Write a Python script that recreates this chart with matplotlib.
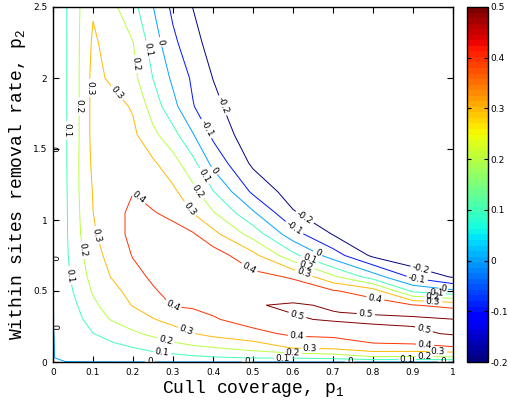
import numpy as np
import matplotlib
matplotlib.use('Agg')
import matplotlib.pyplot as plt
from matplotlib import colors, cm

plt.rcParams['mathtext.fontset'] = 'custom'
plt.rcParams['mathtext.rm'] = 'Liberation Mono'

# grid of the surface (cull coverage p1, within sites removal rate p2)
p1 = [0, 0.03, 0.06, 0.1, 0.15, 0.2, 0.25, 0.3, 0.35, 0.4, 0.5, 0.6, 0.7, 0.8, 0.9, 1.0]
p2 = [0, 0.03, 0.1, 0.2, 0.3, 0.35, 0.4, 0.5, 0.6, 0.75, 0.9, 1.05, 1.2, 1.4, 1.6, 1.8, 2.0, 2.25, 2.5]

# values, one row per p2
z_rows = [
    [-0.002] * 16,
    [-0.002, 0.015, 0.025, 0.035, 0.04, 0.045, 0.05, 0.06, 0.08, 0.09, 0.105, 0.11, 0.13, 0.18, 0.175, 0.18],
    [-0.002, 0.015, 0.03, 0.05, 0.075, 0.098, 0.13, 0.16, 0.18, 0.195, 0.24, 0.305, 0.32, 0.37, 0.37, 0.39],
    [-0.002, 0.022, 0.045, 0.098, 0.14, 0.185, 0.22, 0.26, 0.298, 0.33, 0.37, 0.42, 0.43, 0.46, 0.48, 0.51],
    [-0.002, 0.035, 0.07, 0.15, 0.21, 0.25, 0.295, 0.33, 0.37, 0.39, 0.445, 0.49, 0.51, 0.52, 0.52, 0.502],
    [-0.002, 0.042, 0.084, 0.165, 0.23, 0.278, 0.322, 0.37, 0.39, 0.41, 0.475, 0.503, 0.502, 0.49, 0.47, 0.44],
    [-0.002, 0.05, 0.098, 0.18, 0.25, 0.305, 0.35, 0.405, 0.41, 0.43, 0.495, 0.51, 0.49, 0.45, 0.405, 0.37],
    [-0.002, 0.062, 0.12, 0.21, 0.27, 0.34, 0.39, 0.43, 0.44, 0.45, 0.46, 0.45, 0.41, 0.35, 0.08, 0.02],
    [-0.002, 0.07, 0.14, 0.235, 0.31, 0.37, 0.415, 0.44, 0.45, 0.45, 0.43, 0.39, 0.22, 0.05, -0.12, -0.21],
    [-0.002, 0.078, 0.16, 0.26, 0.34, 0.405, 0.44, 0.46, 0.46, 0.45, 0.33, 0.13, -0.05, -0.22, -0.29, -0.32],
    [-0.002, 0.08, 0.175, 0.285, 0.37, 0.42, 0.44, 0.43, 0.41, 0.33, 0.16, -0.06, -0.205, -0.29, -0.33, -0.35],
    [-0.002, 0.08, 0.18, 0.299, 0.37, 0.42, 0.405, 0.38, 0.298, 0.21, 0.015, -0.19, -0.27, -0.32, -0.35, -0.37],
    [-0.002, 0.082, 0.185, 0.305, 0.37, 0.398, 0.37, 0.32, 0.23, 0.105, -0.12, -0.25, -0.3, -0.33, -0.36, -0.38],
    [-0.002, 0.085, 0.185, 0.32, 0.36, 0.36, 0.315, 0.24, 0.13, -0.03, -0.22, -0.28, -0.32, -0.35, -0.37, -0.39],
    [-0.002, 0.085, 0.18, 0.33, 0.35, 0.32, 0.225, 0.135, 0.006, -0.12, -0.27, -0.31, -0.35, -0.38, -0.40, -0.42],
    [-0.002, 0.086, 0.18, 0.33, 0.335, 0.29, 0.155, 0.03, -0.095, -0.17, -0.29, -0.33, -0.37, -0.40, -0.42, -0.44],
    [-0.002, 0.086, 0.18, 0.33, 0.28, 0.23, 0.098, -0.02, -0.117, -0.202, -0.31, -0.35, -0.39, -0.42, -0.44, -0.46],
    [-0.002, 0.086, 0.18, 0.315, 0.259, 0.202, 0.05, -0.078, -0.167, -0.24, -0.33, -0.37, -0.41, -0.44, -0.46, -0.48],
    [-0.002, 0.086, 0.18, 0.29, 0.22, 0.132, 0.002, -0.123, -0.202, -0.26, -0.34, -0.38, -0.42, -0.45, -0.47, -0.49],
]

levels = [-0.2, -0.1, 0, 0.1, 0.2, 0.3, 0.4, 0.5]
x_ticks = [0, 0.1, 0.2, 0.3, 0.4, 0.5, 0.6, 0.7, 0.8, 0.9, 1]
y_ticks = [0, 0.5, 1, 1.5, 2, 2.5]
cb_ticks = [-0.2, -0.1, 0, 0.1, 0.2, 0.3, 0.4, 0.5]

# where the contour labels sit (near points, data coords)
label_spots = [
    (0.035, 1.63), (0.0625, 1.80), (0.1, 1.93), (0.15, 1.87), (0.21, 2.1), (0.235, 2.2),
    (0.2625, 2.25), (0.4175, 1.8), (0.375, 1.63), (0.4, 1.34), (0.3725, 1.30), (0.355, 1.19),
    (0.3375, 1.07), (0.2125, 1.155), (0.11, 0.895), (0.075, 0.79), (0.0425, 0.61),
    (0.625, 1.0), (0.6, 0.93), (0.6625, 0.77), (0.6425, 0.73), (0.635, 0.70), (0.625, 0.61),
    (0.4925, 0.67), (0.805, 0.437), (0.9175, 0.634), (0.91, 0.577), (0.975, 0.507),
    (0.96, 0.49), (0.95, 0.465), (0.95, 0.43), (0.6125, 0.345), (0.7825, 0.345),
    (0.925, 0.204), (0.61, 0.17), (0.93, 0.106), (0.6425, 0.085), (0.9625, 0.07),
    (0.6, 0.063), (0.93, 0.05), (0.575, 0.028), (0.885, 0.014), (0.2725, 0.063),
    (0.28, 0.134), (0.33, 0.197), (0.2975, 0.387),
    (0.2425, 0.0), (0.485, 0.0), (0.7425, 0.0), (0.975, 0.0),
    (0.0, 1.5), (0.0, 0.73), (0.0, 0.25),
]

Z = np.array(z_rows)

fig = plt.figure(figsize=(5.08, 4.05), dpi=100)
ax = fig.add_axes([53 / 508, 43 / 405, 400 / 508, 355 / 405])

norm = colors.Normalize(vmin=-0.2, vmax=0.5)
cmap = plt.get_cmap('jet', 64)

cs = ax.contour(p1, p2, Z, levels=levels, cmap=cmap, norm=norm, linewidths=0.7)
labels = ax.clabel(cs, levels, manual=label_spots, inline=True, inline_spacing=2,
                   fontsize=6.5, colors='k', fmt=lambda v: '%g' % v)
for t in labels:
    t.set_clip_on(True)

ax.set_xlim(0, 1)
ax.set_ylim(0, 2.5)
ax.set_xticks(x_ticks)
ax.set_yticks(y_ticks)
ax.set_xticklabels(['%g' % v for v in x_ticks])
ax.set_yticklabels(['%g' % v for v in y_ticks])
ax.tick_params(direction='in', top=True, right=True, length=4, width=0.8,
               labelsize=6.5, pad=4)
for s in ax.spines.values():
    s.set_linewidth(1.0)

ax.set_xlabel(r'Cull coverage, p$_{\mathrm{1}}$', family='Liberation Mono', fontsize=13, labelpad=1)
ax.set_ylabel(r'Within sites removal rate, p$_{\mathrm{2}}$', family='Liberation Mono', fontsize=13, labelpad=4)

cax = fig.add_axes([467 / 508, 43 / 405, 21 / 508, 355 / 405])
cb = fig.colorbar(cm.ScalarMappable(norm=norm, cmap=cmap), cax=cax, ticks=cb_ticks)
cb.ax.set_yticklabels(['%g' % v for v in cb_ticks])
cb.ax.tick_params(direction='in', left=True, right=True, length=3, width=0.8,
                  labelsize=6.5, pad=2)
cb.outline.set_linewidth(1.0)

fig.savefig('out.png', dpi=100)
